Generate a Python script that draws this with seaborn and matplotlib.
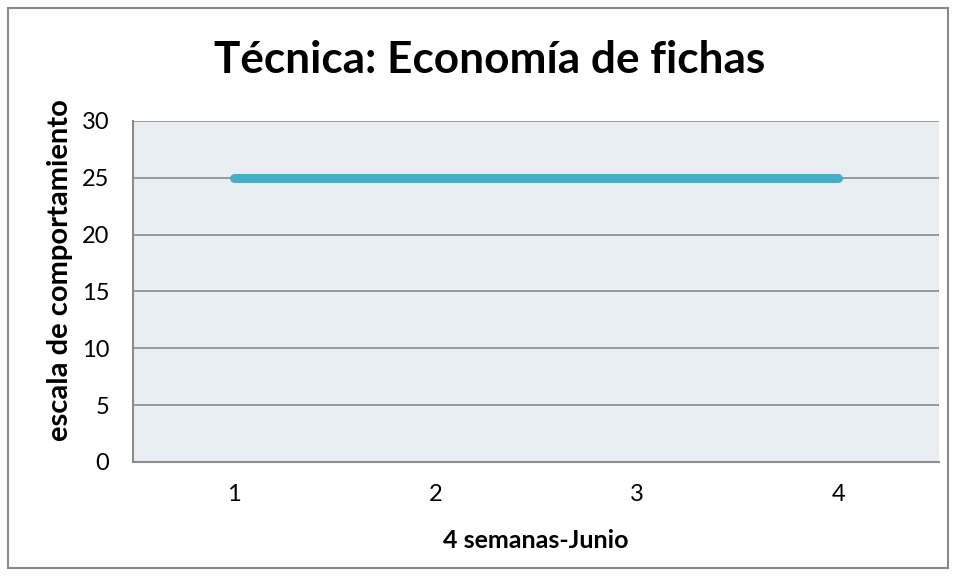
import seaborn as sns
import matplotlib.pyplot as plt
import pandas as pd
from matplotlib.patches import Rectangle

# ---- Data

semanas = [1, 2, 3, 4]
comportamiento = [25, 25, 25, 25]
y_ticks = [0, 5, 10, 15, 20, 25, 30]

TITLE = "Técnica: Economía de fichas"
XLABEL = "4 semanas-Junio"
YLABEL = "escala de comportamiento"

sns.set_theme(style="white")
plt.rcParams["font.family"] = ["Lato", "DejaVu Sans"]
plt.rcParams["text.color"] = "black"
plt.rcParams["axes.labelcolor"] = "black"
plt.rcParams["xtick.color"] = "black"
plt.rcParams["ytick.color"] = "black"

df = pd.DataFrame({"semana": semanas, "valor": comportamiento})

fig = plt.figure(figsize=(9.56, 5.76), dpi=100)
ax = fig.add_axes([0.1391, 0.198, 0.8431, 0.592])

# outer chart border
fig.patches.append(Rectangle((8 / 956, 8 / 576), 940 / 956, 560 / 576,
                             transform=fig.transFigure, fill=False,
                             edgecolor="#8a8a8a", linewidth=1.5))

ax.set_facecolor("#e8eef2")
sns.lineplot(data=df, x="semana", y="valor", ax=ax, color="#47acc6",
             linewidth=6.5, solid_capstyle="round", zorder=3)

ax.set_xlim(0.5, 4.5)
ax.set_ylim(0, 30)
ax.set_xticks(semanas)
ax.set_yticks(y_ticks)
ax.yaxis.grid(True, color="#8c8c8c", linewidth=1.2)
ax.set_axisbelow(True)

for side in ["top", "right"]:
    ax.spines[side].set_visible(False)
for side in ["left", "bottom"]:
    ax.spines[side].set_color("#8c8c8c")
    ax.spines[side].set_linewidth(1.5)

ax.tick_params(axis="y", length=5, width=1.2, color="#8c8c8c", labelsize=17, pad=12)
ax.tick_params(axis="x", length=0, labelsize=17, pad=16)

ax.set_xlabel(XLABEL, fontsize=18, fontweight="bold")
ax.set_ylabel(YLABEL, fontsize=21, fontweight="bold")
ax.xaxis.set_label_coords(0.5, -0.229)
ax.yaxis.set_label_coords(-0.09, 0.563)
ax.xaxis.label.set_va("center")
ax.yaxis.label.set_va("center")

fig.text(490 / 956, 1 - 60 / 576, TITLE, fontsize=31.8,
         fontweight="bold", ha="center", va="center")

fig.savefig("out.png", dpi=100)
